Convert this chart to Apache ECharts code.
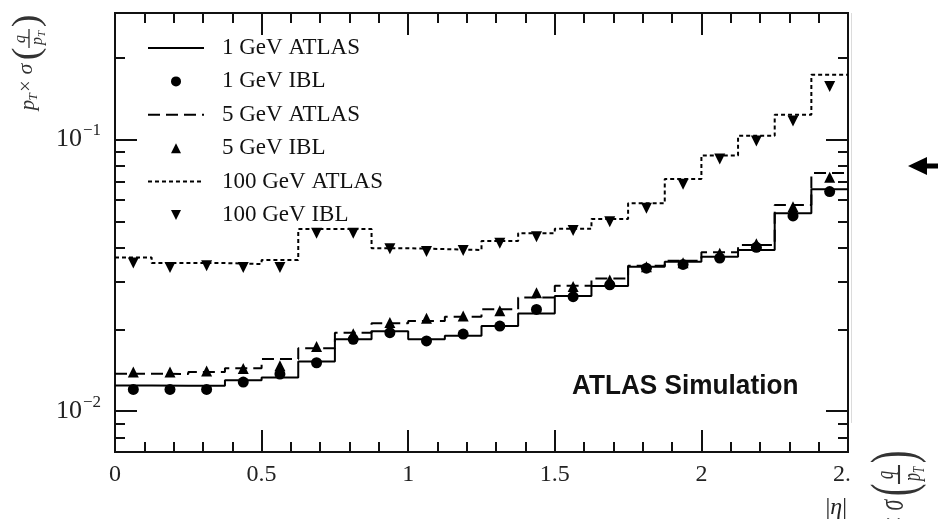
<!DOCTYPE html>
<html>
<head>
<meta charset="utf-8">
<script src="https://cdn.jsdelivr.net/npm/echarts@6/dist/echarts.min.js"></script>
<style>
  html, body { margin: 0; padding: 0; background: #fff; }
  #chart { width: 938px; height: 519px; }
</style>
</head>
<body>
<div id="chart"></div>
<script>
// |eta| binning: 20 bins of width 0.125
const etaEdges = [0, 0.125, 0.25, 0.375, 0.5, 0.625, 0.75, 0.875, 1, 1.125, 1.25,
                  1.375, 1.5, 1.625, 1.75, 1.875, 2, 2.125, 2.25, 2.375, 2.5];
const etaCentres = [0.0625, 0.1875, 0.3125, 0.4375, 0.5625, 0.6875, 0.8125, 0.9375, 1.0625, 1.1875,
                    1.3125, 1.4375, 1.5625, 1.6875, 1.8125, 1.9375, 2.0625, 2.1875, 2.3125, 2.4375];

// pT x sigma(q/pT) per bin
const atlas1GeV = [0.01245, 0.01240, 0.01240, 0.01300, 0.01332, 0.01525, 0.01840, 0.01970, 0.01840, 0.01895,
                   0.02058, 0.02291, 0.02655, 0.02890, 0.03400, 0.03550, 0.03700, 0.03920, 0.05350, 0.06560];
const ibl1GeV   = [0.01203, 0.01203, 0.01203, 0.01280, 0.01370, 0.01508, 0.01840, 0.01945, 0.01815, 0.01923,
                   0.02058, 0.02370, 0.02640, 0.02920, 0.03360, 0.03470, 0.03660, 0.04010, 0.05230, 0.06430];
const atlas5GeV = [0.01375, 0.01370, 0.01395, 0.01438, 0.01556, 0.01705, 0.01946, 0.02106, 0.02148, 0.02227,
                   0.02371, 0.02624, 0.02897, 0.03080, 0.03430, 0.03580, 0.03850, 0.04090, 0.05740, 0.07520];
const ibl5GeV   = [0.01395, 0.01395, 0.01405, 0.01435, 0.01470, 0.01730, 0.01930, 0.02120, 0.02200, 0.02240,
                   0.02344, 0.02730, 0.02880, 0.03040, 0.03400, 0.03520, 0.03810, 0.04130, 0.05660, 0.07260];
const atlas100GeV = [0.0368, 0.0351, 0.0351, 0.0348, 0.0360, 0.0468, 0.0468, 0.0398, 0.0395, 0.0392,
                     0.0423, 0.0452, 0.0469, 0.0510, 0.0582, 0.0716, 0.0873, 0.1031, 0.1233, 0.1729];
const ibl100GeV   = [0.0351, 0.0338, 0.0343, 0.0338, 0.0338, 0.0452, 0.0452, 0.0396, 0.0387, 0.0390,
                     0.0415, 0.0439, 0.0462, 0.0498, 0.0558, 0.0684, 0.0848, 0.0988, 0.1170, 0.1566];

// Axis ranges and tick values
const xTicks = [0, 0.5, 1, 1.5, 2, 2.5];
const yMin = 0.00708, yMax = 0.292;
const yMajorTicks = [0.01, 0.1];
const yMinorTicks = [0.008, 0.009, 0.02, 0.03, 0.04, 0.05, 0.06, 0.07, 0.08, 0.09, 0.2];

const SERIF = "'Liberation Serif', 'DejaVu Serif', serif";
const INK = '#111';
const NO_FILL = 'rgba(0,0,0,0)';
const TRIANGLE_UP = 'path://M0,0 L1,2 L-1,2 Z';
const TRIANGLE_DOWN = 'path://M-1,0 L1,0 L0,2 Z';

function histSteps(values) {
  const pts = values.map((v, i) => [etaEdges[i], v]);
  pts.push([etaEdges[values.length], values[values.length - 1]]);
  return pts;
}
function atCentres(values) {
  return values.map((v, i) => [etaCentres[i], v]);
}

const tickLine = { color: INK, width: 2 };

function xAxisCfg(position, withLabels) {
  return {
    type: 'value', position, min: xTicks[0], max: xTicks[xTicks.length - 1], interval: 0.5,
    axisLine: { show: true, onZero: false, lineStyle: { color: INK, width: 2 } },
    axisTick: { show: true, inside: true, length: 22, lineStyle: tickLine },
    minorTick: { show: true, splitNumber: 5, length: 10, lineStyle: tickLine },
    splitLine: { show: false },
    axisLabel: withLabels ? {
      show: true, margin: 11, color: '#222', fontFamily: SERIF, fontSize: 24,
      formatter: v => String(v)
    } : { show: false }
  };
}

function yAxisCfg(position, ticks, len, withLabels) {
  return {
    type: 'log', logBase: 10, position, min: yMin, max: yMax,
    axisLine: { show: true, onZero: false, lineStyle: { color: INK, width: 2 } },
    axisTick: { show: true, inside: true, length: len, customValues: ticks, lineStyle: tickLine },
    minorTick: { show: false },
    splitLine: { show: false },
    axisLabel: withLabels ? {
      show: true, margin: 14, customValues: ticks,
      formatter: v => '{b|10}{s|\u2212' + (-Math.round(Math.log10(v))) + '}',
      rich: {
        b: { fontFamily: SERIF, fontSize: 26, color: '#222', lineHeight: 34 },
        s: { fontFamily: SERIF, fontSize: 17, color: '#222', verticalAlign: 'top', lineHeight: 17, padding: [0, 0, 0, 1] }
      }
    } : { show: false }
  };
}

// Rotated axis title  p_T x sigma(q/p_T), laid out along its reading direction
function sigmaTitle(x, y, crossScale) {
  const t = (text, lx, ly, size, italic) => ({
    type: 'text', x: lx, y: ly, z: 120,
    style: {
      text, fill: '#333', font: (italic ? 'italic ' : '') + size + 'px ' + SERIF,
      align: 'center', verticalAlign: 'middle', textAlign: 'center', textVerticalAlign: 'middle'
    }
  });
  return {
    type: 'group', x, y, rotation: Math.PI / 2, scaleY: crossScale, z: 120,
    children: [
      t('p', 5, -1, 21, true),
      t('T', 13, 5, 13, true),
      t('\u00d7', 24, -2, 20, false),
      t('\u03c3', 41, -3, 22, true),
      t('(', 56, -1, 38, false),
      t('q', 71, -8, 16, true),
      { type: 'line', z: 120, shape: { x1: 62, y1: 0, x2: 81, y2: 0 }, style: { stroke: '#333', lineWidth: 1.3 } },
      t('p', 69, 9, 16, true),
      t('T', 76, 13, 11, true),
      t(')', 89, -1, 38, false)
    ]
  };
}

const chart = echarts.init(document.getElementById('chart'), null, { renderer: 'canvas' });

chart.setOption({
  animation: false,
  backgroundColor: '#fff',
  grid: { left: 115, right: 90, top: 13, bottom: 67, containLabel: false },
  xAxis: [xAxisCfg('bottom', true), xAxisCfg('top', false)],
  yAxis: [
    yAxisCfg('left', yMajorTicks, 22, true),
    yAxisCfg('left', yMinorTicks, 10, false),
    yAxisCfg('right', yMajorTicks, 22, false),
    yAxisCfg('right', yMinorTicks, 10, false)
  ],
  legend: {
    orient: 'vertical', left: 142, top: 31, padding: 5,
    itemWidth: 56, itemHeight: 10, itemGap: 9.4,
    symbolKeepAspect: true,
    textStyle: { fontFamily: SERIF, fontSize: 23, color: '#111', lineHeight: 24, padding: [0, 0, 0, 13] },
    data: [
      { name: '1 GeV ATLAS' },
      { name: '1 GeV IBL' },
      { name: '5 GeV ATLAS' },
      { name: '5 GeV IBL', icon: TRIANGLE_UP },
      { name: '100 GeV ATLAS' },
      { name: '100 GeV IBL', icon: TRIANGLE_DOWN, symbolRotate: 0 }
    ]
  },
  series: [
    {
      name: '1 GeV ATLAS', type: 'line', step: 'end', symbol: 'none',
      lineStyle: { color: '#000', width: 2, type: 'solid' }, itemStyle: { color: NO_FILL },
      data: histSteps(atlas1GeV), z: 3
    },
    {
      name: '1 GeV IBL', type: 'scatter', symbol: 'circle', symbolSize: 11,
      itemStyle: { color: '#000', opacity: 1 }, data: atCentres(ibl1GeV), z: 5
    },
    {
      name: '5 GeV ATLAS', type: 'line', step: 'end', symbol: 'none',
      lineStyle: { color: '#000', width: 2, type: [12, 6] }, itemStyle: { color: NO_FILL },
      data: histSteps(atlas5GeV), z: 3
    },
    {
      name: '5 GeV IBL', type: 'scatter', symbol: 'triangle', symbolSize: 11,
      itemStyle: { color: '#000', opacity: 1 }, data: atCentres(ibl5GeV), z: 5
    },
    {
      name: '100 GeV ATLAS', type: 'line', step: 'end', symbol: 'none',
      lineStyle: { color: '#000', width: 2, type: [4, 3] }, itemStyle: { color: NO_FILL },
      data: histSteps(atlas100GeV), z: 3
    },
    {
      name: '100 GeV IBL', type: 'scatter', symbol: 'triangle', symbolRotate: 180, symbolSize: 11,
      itemStyle: { color: '#000', opacity: 1 }, data: atCentres(ibl100GeV), z: 5
    }
  ],
  graphic: [
    // page edge beside the frame
    { type: 'rect', z: 100, shape: { x: 849.5, y: 455, width: 90, height: 64 }, style: { fill: '#fff' } },
    { type: 'line', z: 101, shape: { x1: 851.5, y1: 13, x2: 851.5, y2: 423 }, style: { stroke: '#dcdcdc', lineWidth: 1 } },
    {
      type: 'polygon', z: 101,
      shape: { points: [[908, 166], [927, 157], [927, 163.5], [938, 163.5], [938, 168.5], [927, 168.5], [927, 175]] },
      style: { fill: '#000' }
    },
    {
      type: 'text', z: 110, x: 572, y: 386, scaleX: 0.935,
      style: {
        text: 'ATLAS Simulation', fill: '#111',
        font: "bold 28px 'Liberation Sans', sans-serif",
        align: 'left', verticalAlign: 'middle', textAlign: 'left', textVerticalAlign: 'middle'
      }
    },
    {
      type: 'text', z: 110, x: 847, y: 508,
      style: {
        text: '{n||}{e|\u03b7}{n||}',
        rich: {
          n: { fontFamily: SERIF, fontSize: 24, fill: '#222', color: '#222' },
          e: { fontFamily: SERIF, fontSize: 24, fontStyle: 'italic', fill: '#222', color: '#222' }
        },
        align: 'right', verticalAlign: 'middle', textAlign: 'right', textVerticalAlign: 'middle'
      }
    },
    sigmaTitle(29, 110, 1),
    sigmaTitle(899, 546, 1.6)
  ]
});
</script>
</body>
</html>
